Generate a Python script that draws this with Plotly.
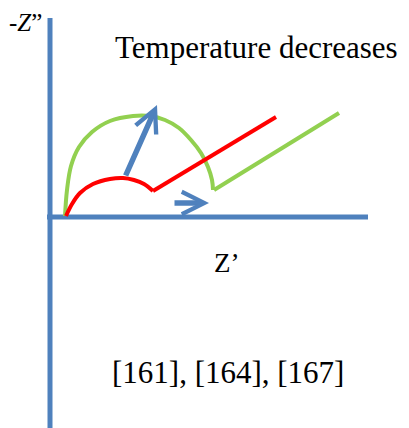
import plotly.graph_objects as go

# Schematic Nyquist-type sketch (coordinates in picture units, y downward)
axis_v_x = [50, 50]
axis_v_y = [18, 428]
axis_h_x = [47, 368]
axis_h_y = [217, 217]

green_arc_x = [65, 67, 71, 79, 92, 110, 133, 150, 165, 179, 191, 201, 208, 212, 213]
green_arc_y = [216, 190, 166, 147, 132, 121, 116, 116, 120, 128, 140, 153, 167, 180, 190]
green_line_x = [214, 339]
green_line_y = [190, 113]

red_arc_x = [66, 72, 80, 93, 110, 123, 134, 144, 153]
red_arc_y = [216, 204, 193, 184, 179, 178, 180, 184, 191]
red_line_x = [153, 276]
red_line_y = [191, 117]

arrow_up = [(125, 177), (157, 105)]
arrow_right = [(173, 203), (209, 203)]

labels = ["-<i>Z</i>\u201d", "Temperature decreases", "Z\u2019", "[161], [164], [167]"]

BLUE = "#4F81BD"
GREEN = "#92D050"
RED = "#FF0000"

fig = go.Figure()
fig.add_trace(go.Scatter(x=axis_v_x, y=axis_v_y, mode="lines",
                         line=dict(color=BLUE, width=5), hoverinfo="skip"))
fig.add_trace(go.Scatter(x=axis_h_x, y=axis_h_y, mode="lines",
                         line=dict(color=BLUE, width=5), hoverinfo="skip"))
fig.add_trace(go.Scatter(x=green_arc_x, y=green_arc_y, mode="lines",
                         line=dict(color=GREEN, width=4, shape="spline", smoothing=1.0),
                         hoverinfo="skip"))
fig.add_trace(go.Scatter(x=green_line_x, y=green_line_y, mode="lines",
                         line=dict(color=GREEN, width=4), hoverinfo="skip"))
fig.add_trace(go.Scatter(x=red_arc_x, y=red_arc_y, mode="lines",
                         line=dict(color=RED, width=4, shape="spline"), hoverinfo="skip"))
fig.add_trace(go.Scatter(x=red_line_x, y=red_line_y, mode="lines",
                         line=dict(color=RED, width=4), hoverinfo="skip"))

for (x0, y0), (x1, y1) in [arrow_up, arrow_right]:
    fig.add_annotation(x=x1, y=y1, ax=x0, ay=y0, xref="x", yref="y",
                       axref="x", ayref="y", showarrow=True, text="",
                       arrowhead=5, arrowsize=0.8, arrowwidth=5.5, arrowcolor=BLUE)

font = dict(family="Liberation Serif, Times New Roman, serif", color="black")
fig.add_annotation(x=25, y=22, text=labels[0], showarrow=False,
                   font=dict(**font, size=25), xref="x", yref="y")
fig.add_annotation(x=256, y=47, text=labels[1], showarrow=False,
                   font=dict(**font, size=31), xref="x", yref="y")
fig.add_annotation(x=226, y=263, text=labels[2], showarrow=False,
                   font=dict(**font, size=27), xref="x", yref="y")
fig.add_annotation(x=228, y=372, text=labels[3], showarrow=False,
                   font=dict(**font, size=31), xref="x", yref="y")

# the page body has an 8px margin: shift the plot area so picture coords match
fig.update_layout(
    width=401, height=420,
    margin=dict(l=0, r=0, t=0, b=0),
    showlegend=False,
    plot_bgcolor="white", paper_bgcolor="white",
    xaxis=dict(range=[8, 409], visible=False, fixedrange=True),
    yaxis=dict(range=[428, 8], visible=False, fixedrange=True),
)

fig.write_html("out.html")
